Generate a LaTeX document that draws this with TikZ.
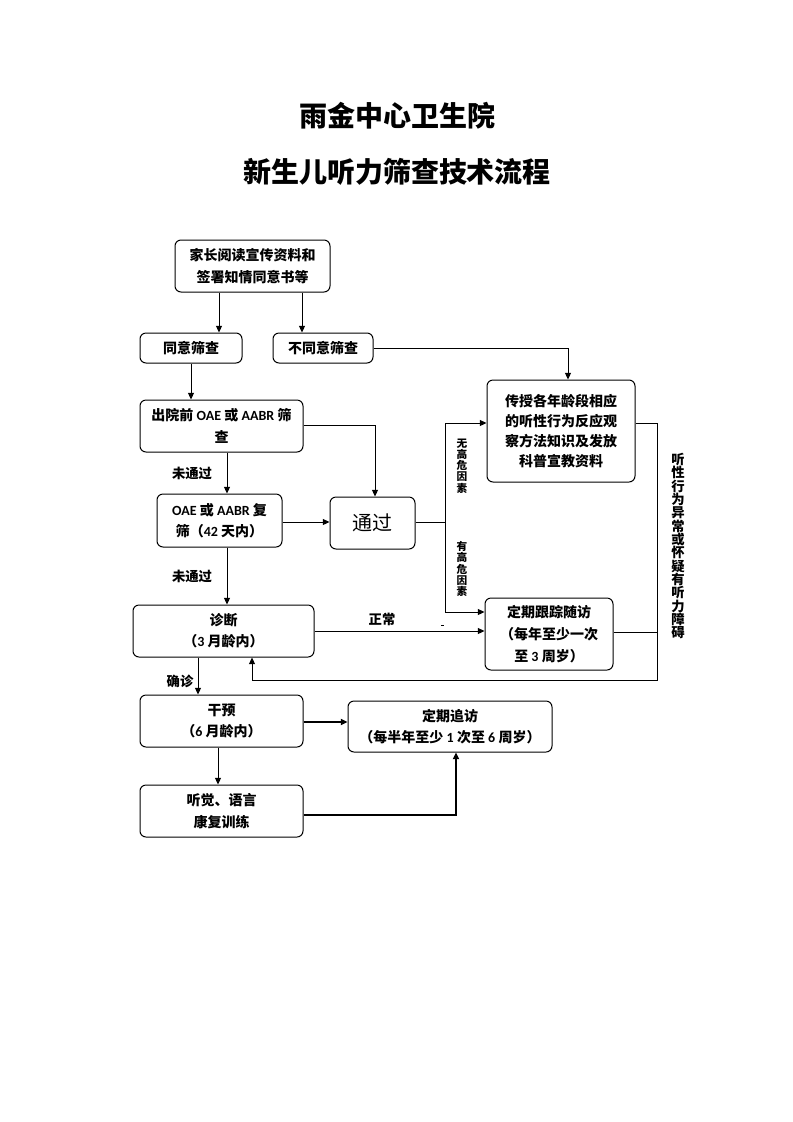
\documentclass[tikz,border=0pt]{standalone}
\usepackage{fontspec}
\setmainfont{Noto Sans CJK SC}
\newfontfamily\latinfam{Carlito}[BoldFont={Carlito Bold}]
\newcommand{\lt}[1]{{\latinfam\bfseries #1}}
\usetikzlibrary{arrows.meta}
\begin{document}
\begin{tikzpicture}[x=0.75pt,y=-0.75pt,
  box/.style={draw,rounded corners=4.5pt,line width=0.75pt,align=center,inner sep=0pt,
    font=\bfseries\fontsize{10.5}{16}\selectfont},
  ln/.style={line width=0.75pt},
  arr/.style={ln,-{Triangle[length=5pt,width=4.5pt]}},
  tln/.style={line width=1.6pt},
  tarr/.style={tln,-{Triangle[length=5pt,width=4.5pt]}},
  lbl/.style={font=\bfseries\fontsize{10}{12}\selectfont},
  vlbl/.style={align=center,inner sep=0pt,font=\bfseries\fontsize{8}{8.4}\selectfont},
  title/.style={font=\bfseries\fontsize{21}{24}\selectfont}
]
\useasboundingbox (0,0) rectangle (793,1122);

\node[title] (t1) at (397,116) {雨金中心卫生院};
\node[title] (t2) at (397,172) {新生儿听力筛查技术流程};

\node[box,minimum width=116.25pt,minimum height=39pt] (top) at (252.5,266) {家长阅读宣传资料和\\签署知情同意书等};
\node[box,minimum width=76.5pt,minimum height=22.5pt] (agree) at (191,348) {同意筛查};
\node[box,minimum width=75pt,minimum height=22.5pt] (disagree) at (323,348) {不同意筛查};
\node[box,minimum width=122.25pt,minimum height=39pt] (pre) at (221.5,426) {出院前 \lt{OAE} 或 \lt{AABR} 筛\\查};
\node[box,minimum width=93.75pt,minimum height=39.75pt] (re) at (219.5,520.5) {\lt{OAE} 或 \lt{AABR} 复\\筛（\lt{42} 天内）};
\node[box,minimum width=63.75pt,minimum height=39pt,font=\fontsize{15}{18}\selectfont] (pass) at (372.5,523) {通过};
\node[box,minimum width=111pt,minimum height=76.5pt,font=\bfseries\fontsize{10.5}{15}\selectfont] (teach) at (561,431) {传授各年龄段相应\\的听性行为反应观\\察方法知识及发放\\科普宣教资料};
\node[box,minimum width=96pt,minimum height=54pt,font=\bfseries\fontsize{10.5}{16.5}\selectfont] (follow) at (549,634) {定期跟踪随访\\（每年至少一次\\至 \lt{3} 周岁）};
\node[box,minimum width=135.75pt,minimum height=39pt] (diag) at (223.5,631) {诊断\\（\lt{3} 月龄内）};
\node[box,minimum width=122.25pt,minimum height=39pt] (interv) at (221.5,721) {干预\\（\lt{6} 月龄内）};
\node[box,minimum width=153pt,minimum height=38.25pt] (track) at (450,726.5) {定期追访\\（每半年至少 \lt{1} 次至 \lt{6} 周岁）};
\node[box,minimum width=122.25pt,minimum height=39pt] (train) at (221.5,811) {听觉、语言\\康复训练};

% labels
\node[lbl] (l1) at (192,473) {未通过};
\node[lbl] (l2) at (192,576) {未通过};
\node[lbl] (l3) at (180,681) {确诊};
\node[lbl] (l4) at (382,619) {正常};
\node[vlbl] (l5) at (462,466) {无\\高\\危\\因\\素};
\node[vlbl] (l6) at (462,569) {有\\高\\危\\因\\素};
\node[vlbl,font=\bfseries\fontsize{10}{10}\selectfont] (l7) at (678,546) {听\\性\\行\\为\\异\\常\\或\\怀\\疑\\有\\听\\力\\障\\碍};

% coordinates
\coordinate (pj) at (445,522);
\coordinate (pjt) at (445,423);
\coordinate (pjb) at (445,612);
\coordinate (rr) at (657,423);
\coordinate (rb) at (657,680);
\coordinate (lb) at (252,680);

% connectors
\draw[arr] (219,0 |- top.south) -- (219,0 |- agree.north);
\draw[arr] (302,0 |- top.south) -- (302,0 |- disagree.north);
\draw[arr] (disagree.east) -- (568,348) -- (568,0 |- teach.north);
\draw[arr] (agree.south) -- (agree.south |- pre.north);
\draw[arr] (pre.east |- 0,425) -- (375,425) -- (375,0 |- pass.north);
\draw[arr] (227,0 |- pre.south) -- (227,0 |- re.north);
\draw[arr] (re.east |- 0,522) -- (pass.west |- 0,522);
\draw[ln] (pass.east |- pj) -- (pj);
\draw[ln] (pjt) -- (pjb);
\draw[arr] (pjt) -- (teach.west |- pjt);
\draw[arr] (pjb) -- (follow.west |- pjb);
\draw[ln] (teach.east |- rr) -- (rr) -- (rb) -- (lb);
\draw[arr] (lb) -- (lb |- diag.south);
\draw[ln] (follow.east |- 0,632) -- (657,632);
\draw[arr] (diag.east |- 0,631) -- (follow.west |- 0,631);
\draw[ln] (441,625) -- (444,625);
\draw[arr] (227,0 |- re.south) -- (227,0 |- diag.north);
\draw[arr] (198,0 |- diag.south) -- (198,0 |- interv.north);
\draw[tarr] (interv.east |- 0,722) -- (track.west |- 0,722);
\draw[arr] (218,0 |- interv.south) -- (218,0 |- train.north);
\draw[tarr] (train.east |- 0,815) -- (456,815) -- (456,0 |- track.south);
\end{tikzpicture}
\end{document}
